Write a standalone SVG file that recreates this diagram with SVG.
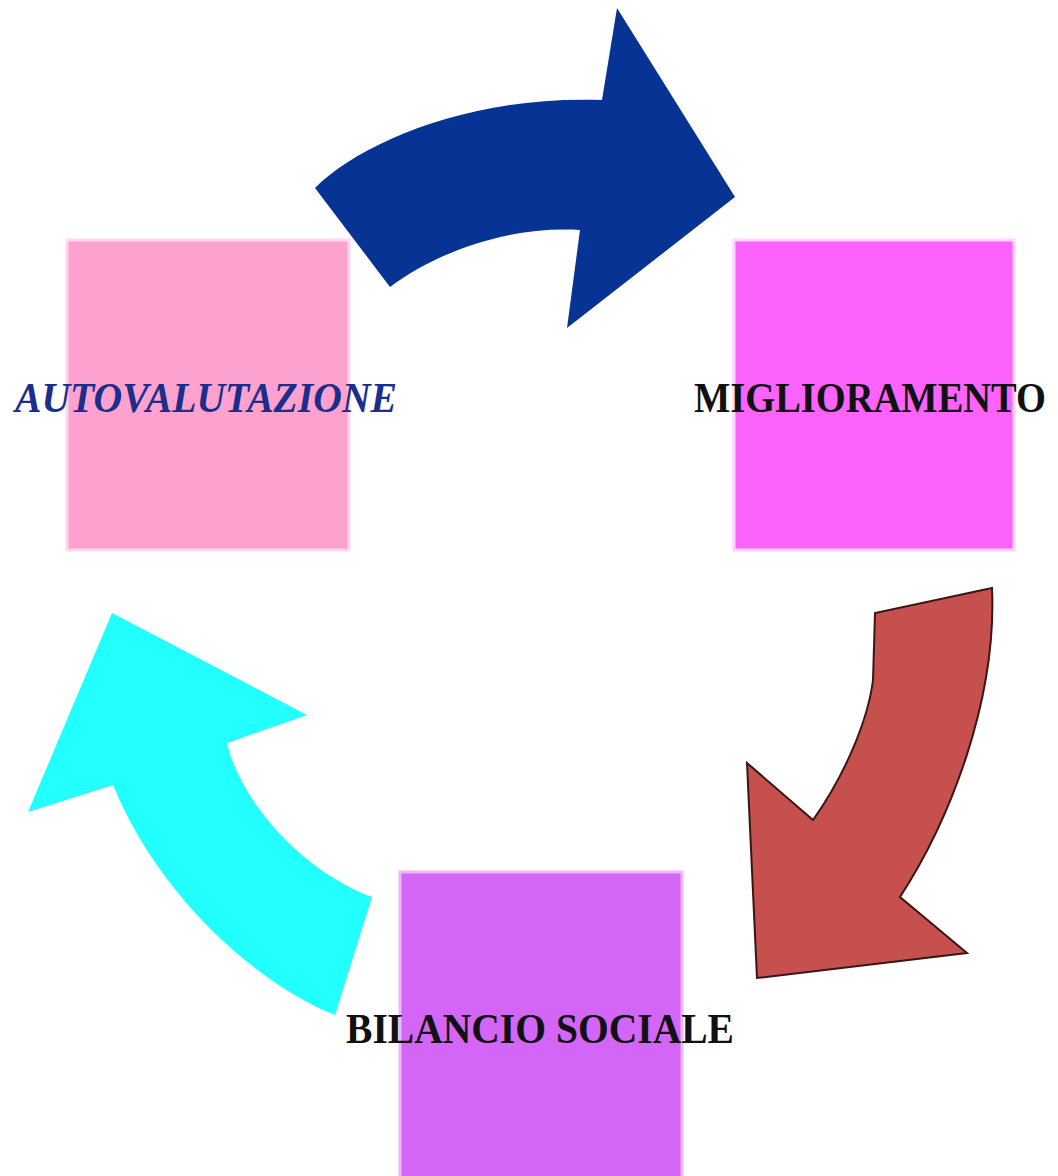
<svg xmlns="http://www.w3.org/2000/svg" width="1058" height="1176" viewBox="0 0 1058 1176">
<style>
.lbl{font-family:"Liberation Serif","Times New Roman",serif;font-weight:bold;font-size:42px;text-anchor:middle}
</style>
<rect width="1058" height="1176" fill="#ffffff"/>
<g id="connectors">
<path id="arrow-blue" d="M315,188 C360,143 470,95 602,100 L617,8 L735,197 L567,328 L580,230 C510,226 440,250 390,287 Z" fill="#063394"/>
<path id="arrow-red" d="M992,588 L875,613 L873,680 C868,720 845,775 813,820 L747,763 L757,978 L967,953 L900,897 C950,820 997,700 992,588 Z" fill="#C5504E" stroke="#3a1616" stroke-width="2" stroke-linejoin="miter"/>
<path id="arrow-cyan" d="M112,613 L307,715 L227,743 C240,800 300,870 372,897 L335,1015 C260,985 160,900 113,785 L28,812 Z" fill="#21FFFF"/>
</g>
<g id="node-autovalutazione">
<rect x="67" y="240" width="282" height="310" fill="#FDA2CE" stroke="#FFD8EC" stroke-width="3"/>
<text class="lbl" x="206" y="412" font-style="italic" fill="#1C2E8C" textLength="382" lengthAdjust="spacingAndGlyphs">AUTOVALUTAZIONE</text>
</g>
<g id="node-miglioramento">
<rect x="734" y="240" width="280" height="310" fill="#FC63FC" stroke="#FFD2FF" stroke-width="3"/>
<text class="lbl" x="870" y="412" fill="#111111" textLength="352" lengthAdjust="spacingAndGlyphs">MIGLIORAMENTO</text>
</g>
<g id="node-bilancio">
<rect x="400" y="872" width="282" height="306" fill="#D466F7" stroke="#ECB8FC" stroke-width="3"/>
<text class="lbl" x="540" y="1043" fill="#111111" textLength="388" lengthAdjust="spacingAndGlyphs">BILANCIO SOCIALE</text>
</g>
</svg>
